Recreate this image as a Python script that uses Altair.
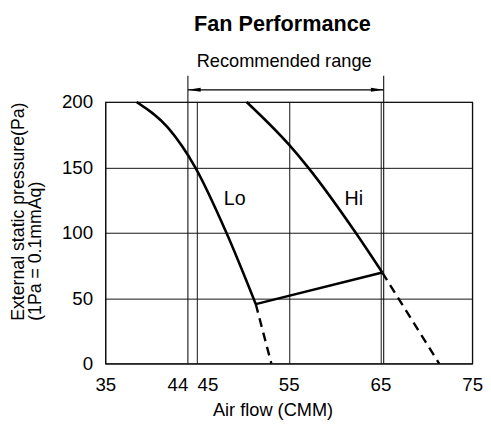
import altair as alt
import pandas as pd

FONT = "Liberation Sans"

# Fan curves
lo_x = [38.4, 41.8, 44.8, 48.2, 51.4]
lo_y = [200, 180.5, 150, 100, 45.5]
lo_dash_x = [51.4, 53.1]
lo_dash_y = [45.5, 0]
hi_x = [50.4, 55.0, 57.1, 62.3, 65.2]
hi_y = [200, 167.5, 150, 100, 69.6]
hi_dash_x = [65.2, 71.4]
hi_dash_y = [69.6, 0]
link_x = [51.4, 65.2]
link_y = [45.5, 69.6]

# Recommended range
range_x = [44, 65.35]
range_top = 220
arrow_y = 209.3
range_label = "Recommended range"
range_label_x = 54.5
range_label_y = 231

# Curve labels
label_text = ["Lo", "Hi"]
label_x = [49.1, 62.1]
label_y = [126, 126]

# Chart title
title_text = "Fan Performance"
title_x = 54.3
title_y = 259.5

x_ticks = [35, 44, 45, 55, 65, 75]
y_ticks = [0, 50, 100, 150, 200]


def frame(xs, ys, name):
    return pd.DataFrame({"x": xs, "y": ys, "series": name, "order": range(len(xs))})


solid = pd.concat([frame(lo_x, lo_y, "Lo"), frame(hi_x, hi_y, "Hi")])
dashed = pd.concat([frame(lo_dash_x, lo_dash_y, "Lo"), frame(hi_dash_x, hi_dash_y, "Hi")])
link = frame(link_x, link_y, "link")
rng = pd.DataFrame({"x": range_x, "y0": [0, 0], "y1": [range_top, range_top]})
arrow = pd.DataFrame({"x": [range_x[0]], "x2": [range_x[1]], "y": [arrow_y]})
head_l = pd.DataFrame({"x": [range_x[0]], "y": [arrow_y]})
head_r = pd.DataFrame({"x": [range_x[1]], "y": [arrow_y]})
rtext = pd.DataFrame({"x": [range_label_x], "y": [range_label_y], "t": [range_label]})
labels = pd.DataFrame({"x": label_x, "y": label_y, "t": label_text})
ttext = pd.DataFrame({"x": [title_x], "y": [title_y], "t": [title_text]})

xscale = alt.Scale(domain=[35, 75], nice=False, zero=False)
yscale = alt.Scale(domain=[0, 200], nice=False)

x_axis = alt.Axis(
    values=x_ticks, title="Air flow (CMM)", grid=True, gridColor="#111", gridWidth=1,
    gridOpacity={"expr": "datum.value == 44 ? 0 : 1"},
    ticks=False, domain=False, labelFont=FONT, labelFontSize=19, labelColor="black",
    labelPadding=12, labelOverlap=False, labelFlush=False,
    labelAlign={"expr": "datum.value == 44 ? 'right' : datum.value == 45 ? 'left' : 'center'"},
    titleFont=FONT, titleFontSize=18.5, titleFontWeight="normal", titleColor="black",
    titleX=170, titleY=47, titleBaseline="middle", titleAlign="center",
)
y_axis = alt.Axis(
    values=y_ticks, title=["External static pressure(Pa)", "(1Pa = 0.1mmAq)"],
    grid=True, gridColor="#111", gridWidth=1, ticks=False, domain=False,
    labelFont=FONT, labelFontSize=19, labelColor="black", labelPadding=13,
    labelFlush=False,
    titleFont=FONT, titleFontSize=18, titleFontWeight="normal", titleColor="black",
    titleAngle=270, titleAlign="left", titleBaseline="top", titleX=-97, titleY=222,
    titleLineHeight=17,
)

base_x = alt.X("x:Q", scale=xscale, axis=x_axis)
base_y = alt.Y("y:Q", scale=yscale, axis=y_axis)

solid_layer = alt.Chart(solid).mark_line(color="black", strokeWidth=2.6, interpolate="monotone").encode(
    x=base_x, y=base_y, detail="series:N", order="order:Q")
dashed_layer = alt.Chart(dashed).mark_line(color="black", strokeWidth=2.4, strokeDash=[9, 6]).encode(
    x="x:Q", y="y:Q", detail="series:N", order="order:Q")
link_layer = alt.Chart(link).mark_line(color="black", strokeWidth=2.4).encode(
    x="x:Q", y="y:Q", order="order:Q")
range_layer = alt.Chart(rng).mark_rule(color="#111", strokeWidth=1.1).encode(
    x="x:Q", y="y0:Q", y2="y1:Q")
arrow_layer = alt.Chart(arrow).mark_rule(color="black", strokeWidth=1.3).encode(
    x="x:Q", x2="x2:Q", y="y:Q")
head_l_layer = alt.Chart(head_l).mark_point(
    shape="M-1,0 L1,-0.3 L1,0.3 Z", filled=True, color="black", size=169, opacity=1, xOffset=6.5
).encode(x="x:Q", y="y:Q")
head_r_layer = alt.Chart(head_r).mark_point(
    shape="M1,0 L-1,-0.3 L-1,0.3 Z", filled=True, color="black", size=169, opacity=1, xOffset=-6.5
).encode(x="x:Q", y="y:Q")
rtext_layer = alt.Chart(rtext).mark_text(font=FONT, fontSize=18.5, color="black", baseline="middle").encode(
    x="x:Q", y="y:Q", text="t:N")
label_layer = alt.Chart(labels).mark_text(font=FONT, fontSize=20, color="black", baseline="middle").encode(
    x="x:Q", y="y:Q", text="t:N")
title_layer = alt.Chart(ttext).mark_text(
    font=FONT, fontSize=22, fontWeight="bold", color="black", baseline="middle"
).encode(x="x:Q", y="y:Q", text="t:N")

chart = alt.layer(
    solid_layer, range_layer, arrow_layer, head_l_layer, head_r_layer,
    dashed_layer, link_layer, rtext_layer, label_layer, title_layer,
).properties(
    width=373, height=266,
    padding={"left": 99, "top": 92, "right": 11, "bottom": 62},
    autosize=alt.AutoSizeParams(type="none"),
).configure_view(stroke="black", strokeWidth=1.2)

chart.save("out.html", embed_options={"renderer": "svg", "actions": False})
